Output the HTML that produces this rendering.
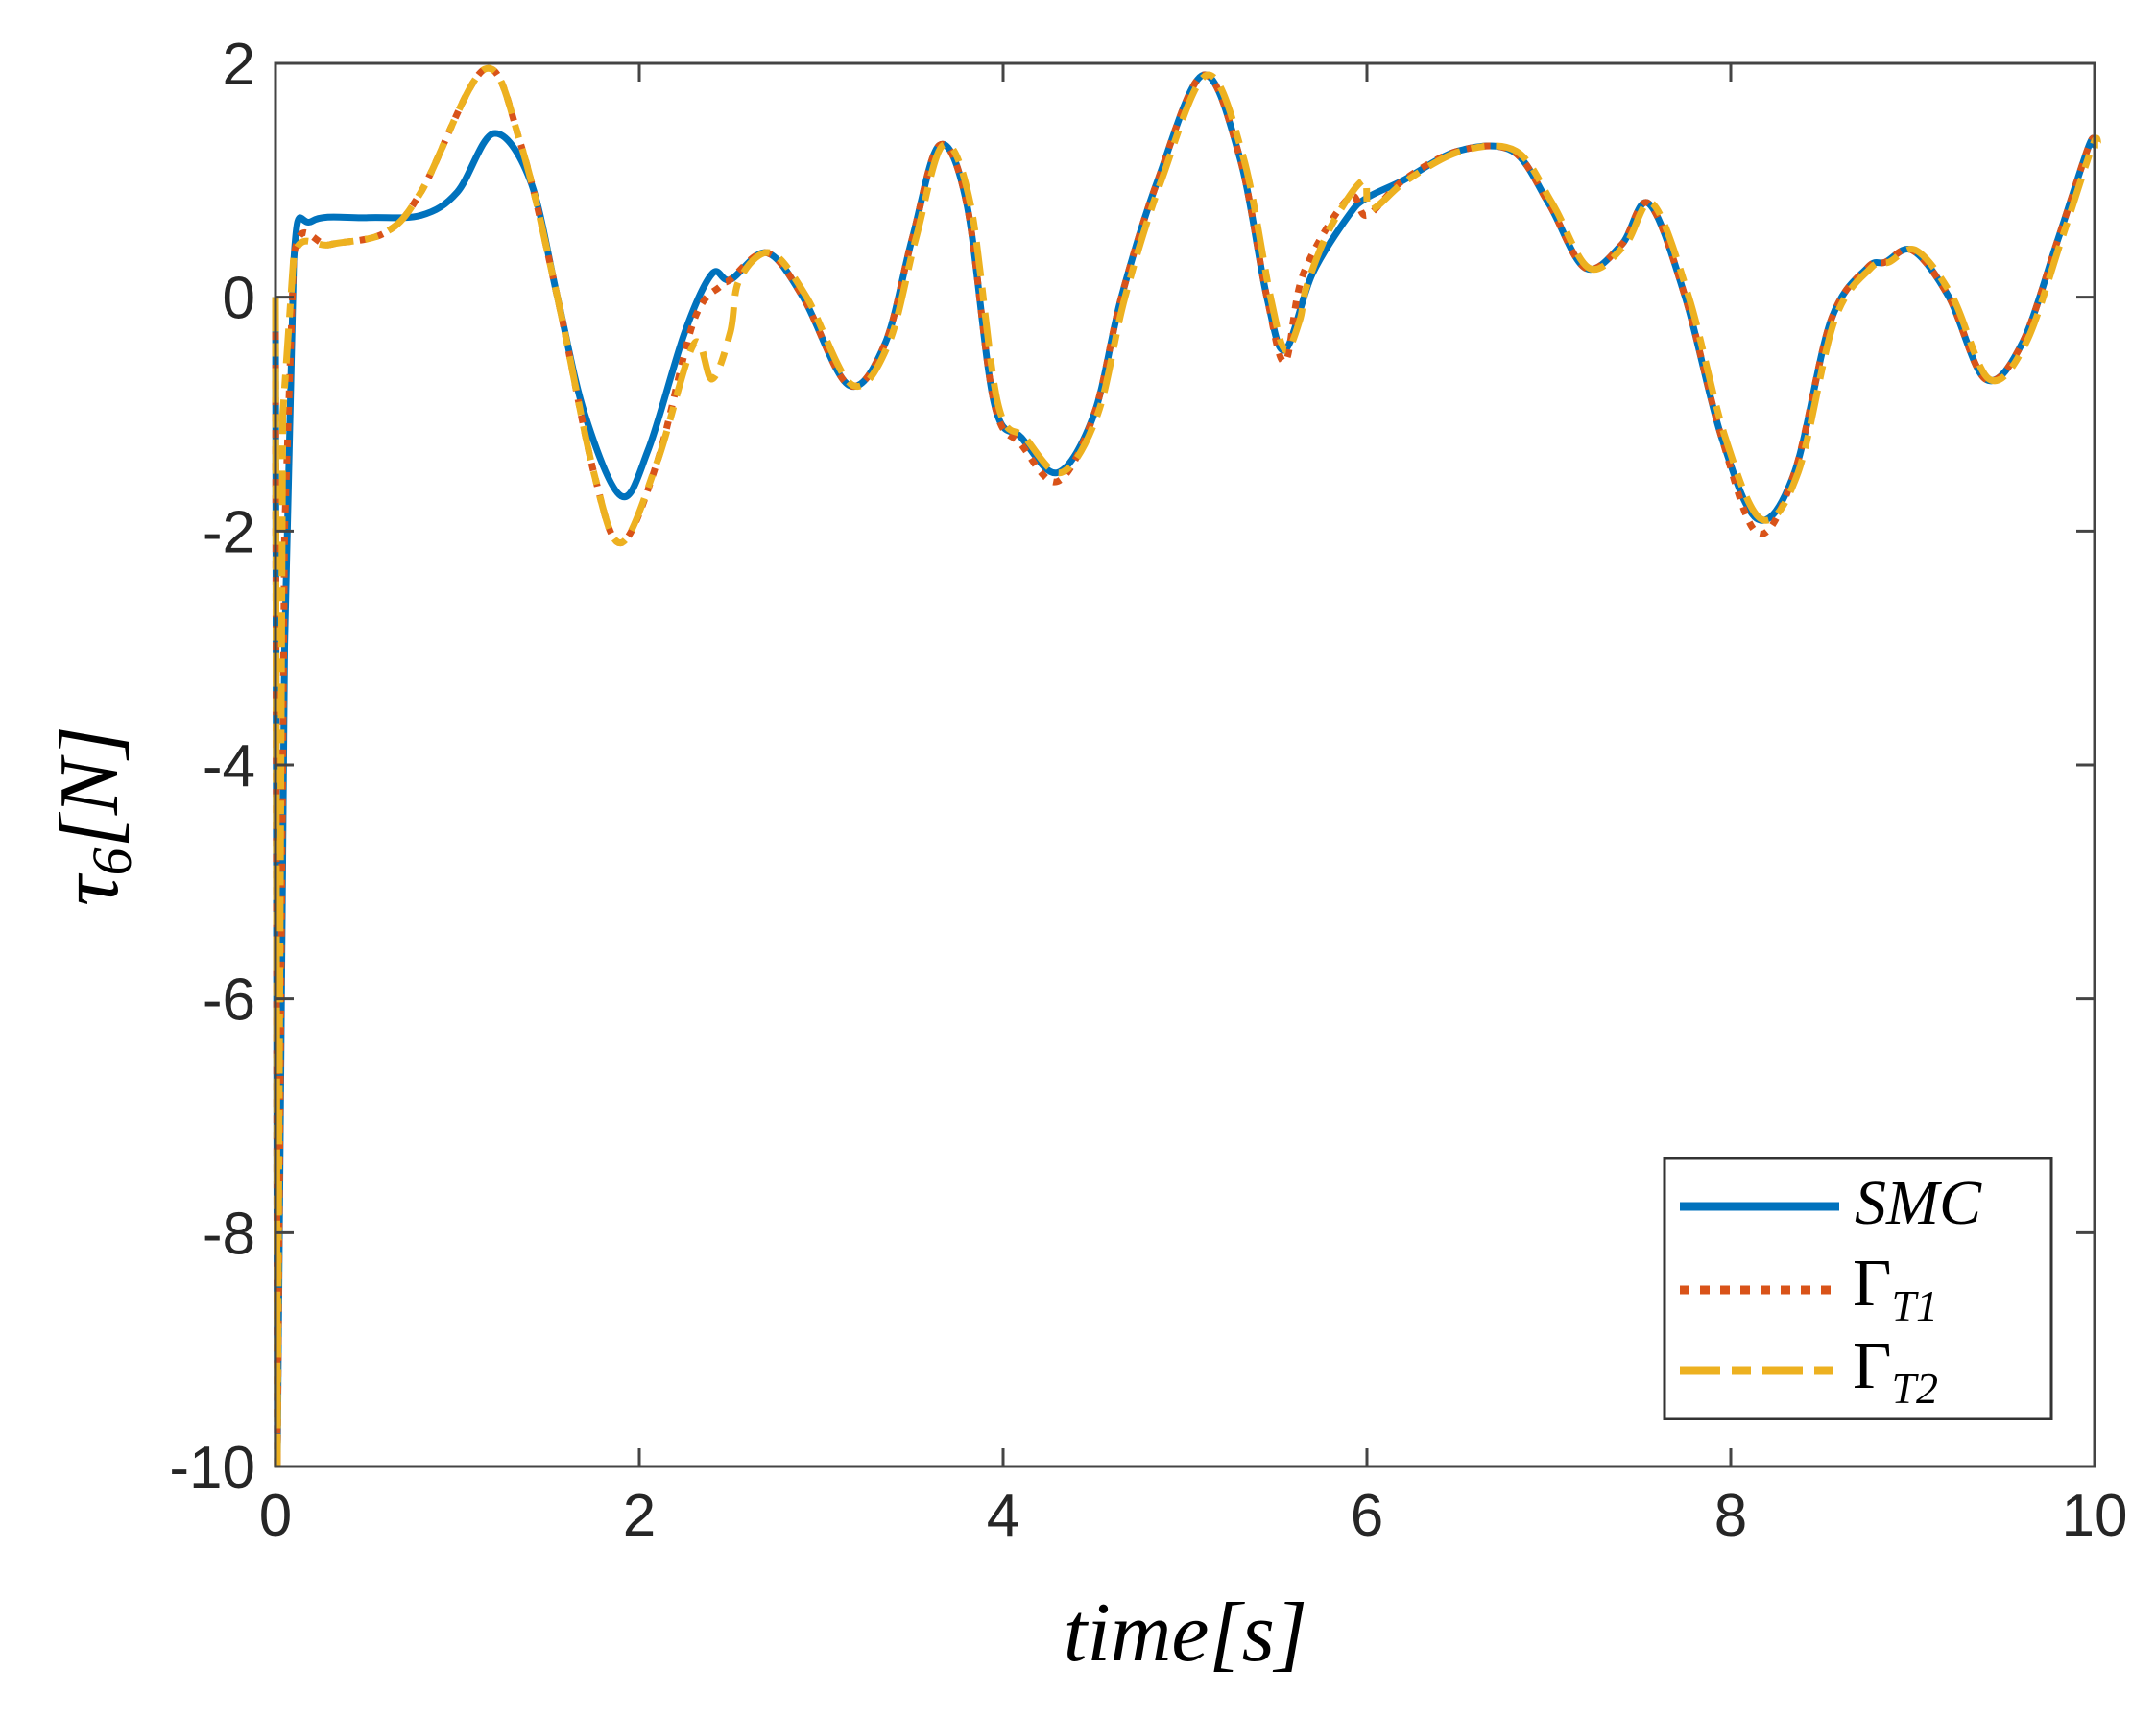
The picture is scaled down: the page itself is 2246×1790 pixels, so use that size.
<!DOCTYPE html>
<html><head><meta charset="utf-8"><style>
html,body{margin:0;padding:0;background:#fff;}
svg{display:block;}
text{font-family:"Liberation Sans",sans-serif;}
.tk{font-size:62px;fill:#262626;}
.ser{font-family:"Liberation Serif",serif;font-style:italic;fill:#000;}
</style></head><body>
<svg id="s" width="2246" height="1790" viewBox="0 0 2246 1790" xmlns="http://www.w3.org/2000/svg">
<rect width="2246" height="1790" fill="#fff"/>
<g id="curves"></g>
<rect x="287" y="66" width="1895" height="1462" fill="none" stroke="#444" stroke-width="3"/>
<g id="ticks" stroke="#444" stroke-width="3"></g>
<g id="labels"></g>
<text class="ser" font-size="88" x="1235" y="1730" text-anchor="middle">time[s]</text>
<text class="ser" font-size="88" transform="translate(122,850) rotate(-90)" text-anchor="middle">τ<tspan font-size="58" dy="14">6</tspan><tspan dy="-14">[N]</tspan></text>
<rect x="1734" y="1207" width="403" height="271" fill="#fff" stroke="#333" stroke-width="3"/>
<line x1="1750" y1="1257" x2="1916" y2="1257" stroke="#0072BD" stroke-width="9"/>
<line x1="1750" y1="1344" x2="1910" y2="1344" stroke="#D95319" stroke-width="9" stroke-dasharray="10,11"/>
<line x1="1750" y1="1428" x2="1916" y2="1428" stroke="#EDB120" stroke-width="9" stroke-dasharray="42,12,20,12"/>
<text class="ser" font-size="66" x="1932" y="1275">SMC</text>
<text class="ser" font-size="70" x="1930" y="1360" style="font-style:normal">Γ<tspan style="font-style:italic" font-size="46" dy="16">T1</tspan></text>
<text class="ser" font-size="70" x="1930" y="1446" style="font-style:normal">Γ<tspan style="font-style:italic" font-size="46" dy="16">T2</tspan></text>
</svg>
<script>
var L=287,T=66,W=1895,H=1462;
function X(t){return L+t/10*W;}function Y(v){return T+(2-v)/12*H;}
var NS="http://www.w3.org/2000/svg";
var tk=document.getElementById('ticks'),lb=document.getElementById('labels');
function el(p,n,a,txt){var e=document.createElementNS(NS,n);for(var k in a)e.setAttribute(k,a[k]);if(txt)e.textContent=txt;p.appendChild(e);}
for(var i=0;i<=10;i+=2){var x=X(i);el(tk,'line',{x1:x,y1:1528,x2:x,y2:1509});el(tk,'line',{x1:x,y1:66,x2:x,y2:85});el(lb,'text',{x:x,y:1600,'text-anchor':'middle','class':'tk'},''+i);}
for(var v=-10;v<=2;v+=2){var y=Y(v);el(tk,'line',{x1:287,y1:y,x2:306,y2:y});el(tk,'line',{x1:2182,y1:y,x2:2163,y2:y});el(lb,'text',{x:266,y:y+22,'text-anchor':'end','class':'tk'},''+v);}
var base=[[2.5,0.15],[2.7,0.38],[2.9,0],[3.15,-0.75],[3.35,-0.4],[3.5,0.5],[3.65,1.3],[3.8,0.8],[3.95,-0.9],[4.1,-1.2],[4.3,-1.5],[4.5,-1.0],[4.65,0],[4.85,1.0],[5.1,1.9],[5.3,1.2],[5.45,0]];
var tail=[[6.2,1.0],[6.5,1.25],[6.8,1.25],[7.0,0.8],[7.2,0.25],[7.4,0.45],[7.55,0.8],[7.75,0],[7.95,-1.2],[8.15,-1.9],[8.35,-1.5],[8.55,-0.2],[8.75,0.25],[8.85,0.3],[9.0,0.4],[9.2,0],[9.4,-0.7],[9.6,-0.4],[9.8,0.5],[9.97,1.3],[10,1.3]];
var smc=[[0,0],[0.01,-10],[0.05,-3],[0.1,0.3],[0.2,0.65],[0.5,0.68],[0.8,0.7],[1.0,0.9],[1.2,1.4],[1.4,1.0],[1.55,0],[1.7,-1],[1.9,-1.7],[2.05,-1.3],[2.25,-0.3],[2.4,0.2]].concat(base,[[5.55,-0.45],[5.7,0.2],[5.9,0.7],[6.0,0.85]],tail);
var t1=[[0,-0.3],[0.01,-10],[0.05,-2],[0.1,0.35],[0.3,0.45],[0.6,0.55],[0.8,0.9],[1.15,1.95],[1.35,1.3],[1.55,0],[1.75,-1.5],[1.9,-2.1],[2.1,-1.4],[2.3,-0.2],[2.45,0.1]].concat(base.map(function(p){return [p[0],p[1]*(p[1]<-1?1.05:1)];}),[[5.55,-0.55],[5.65,0.2],[5.9,0.85],[6.0,0.7]],tail.map(function(p){return [p[0],p[0]>8&&p[0]<8.3?p[1]-0.12:p[1]];}));
var t2=[[0,0],[0.01,-10],[0.04,-1],[0.1,0.35],[0.3,0.45],[0.6,0.55],[0.8,0.9],[1.15,1.95],[1.35,1.3],[1.55,0],[1.75,-1.5],[1.9,-2.1],[2.1,-1.4],[2.3,-0.4],[2.4,-0.7],[2.5,-0.3],[2.55,0.15]].concat(base.slice(1).map(function(p){return [p[0]+0.02,p[1]];}),[[5.55,-0.45],[5.63,-0.2],[5.67,0.1],[5.8,0.6],[5.98,1.0],[6.02,0.75]],tail.map(function(p){return [p[0]+0.02,p[1]];}));
function path(pts){var d='M'+X(pts[0][0])+','+Y(pts[0][1]);for(var i=0;i<pts.length-1;i++){var p0=pts[Math.max(0,i-1)],p1=pts[i],p2=pts[i+1],p3=pts[Math.min(pts.length-1,i+2)];
var c1=[X(p1[0])+(X(p2[0])-X(p0[0]))/6,Y(p1[1])+(Y(p2[1])-Y(p0[1]))/6],c2=[X(p2[0])-(X(p3[0])-X(p1[0]))/6,Y(p2[1])-(Y(p3[1])-Y(p1[1]))/6];
if(i<3){c1=[X(p1[0]),Y(p1[1])];c2=[X(p2[0]),Y(p2[1])];}
d+='C'+c1+' '+c2+' '+X(p2[0])+','+Y(p2[1]);}return d;}
var g=document.getElementById('curves');
el(g,'path',{d:path(smc),fill:'none',stroke:'#0072BD','stroke-width':7});
el(g,'path',{d:path(t1),fill:'none',stroke:'#D95319','stroke-width':7,'stroke-dasharray':'8,9'});
el(g,'path',{d:path(t2),fill:'none',stroke:'#EDB120','stroke-width':7,'stroke-dasharray':'36,12,14,12'});
</script>
</body></html>
